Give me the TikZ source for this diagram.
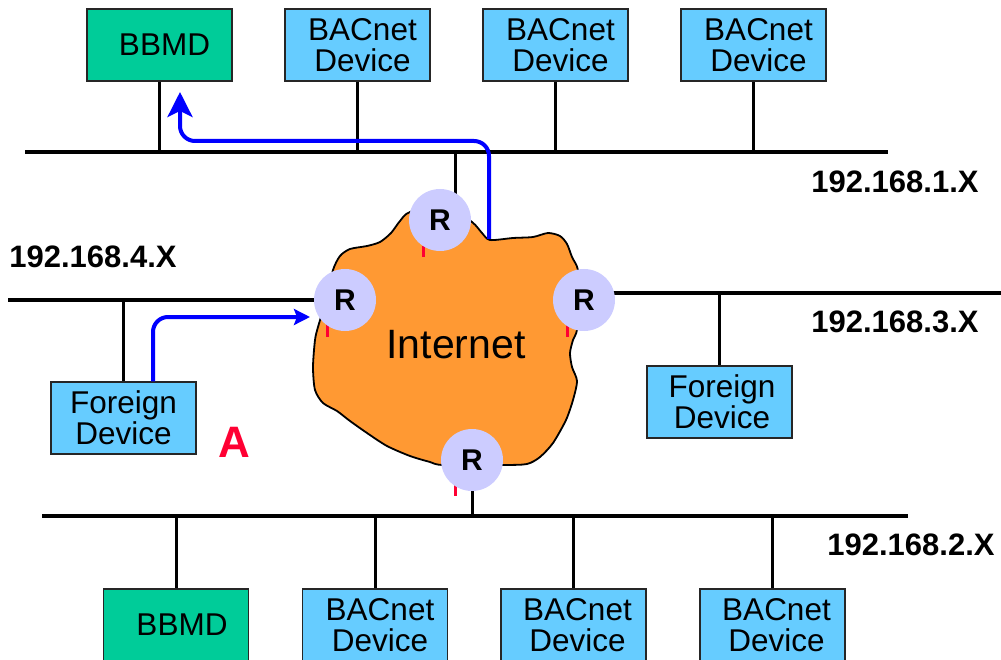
\documentclass[tikz,border=0pt]{standalone}
\usepackage{fontspec}
\setmainfont{Liberation Sans}
\usetikzlibrary{arrows.meta,backgrounds}

\definecolor{bbmdgreen}{HTML}{00CC99}
\definecolor{devblue}{HTML}{66CCFF}
\definecolor{routerfill}{HTML}{CCCCFF}
\definecolor{cloudorange}{HTML}{FF9933}
\definecolor{tickred}{HTML}{FF0033}
\definecolor{flowblue}{HTML}{0000FF}

\begin{document}
\begin{tikzpicture}[x=1pt,y=-1pt,
  devbox/.style={draw=black!85, line width=1.5pt, fill=devblue,
    minimum width=145pt, minimum height=72pt, inner sep=0pt, align=center,
    font=\fontsize{31.5}{31}\selectfont},
  bbmdbox/.style={devbox, fill=bbmdgreen},
  router/.style={circle, fill=routerfill, minimum size=62pt, inner sep=0pt,
    font=\fontsize{30}{30}\selectfont\bfseries},
  bus/.style={line width=4pt},
  drop/.style={line width=3pt},
  flow/.style={draw=flowblue, line width=4pt, rounded corners=15pt},
  tickmark/.style={draw=tickred, line width=3pt},
  netlabel/.style={font=\fontsize{31}{31}\selectfont\bfseries, inner sep=0pt},
]
\clip (0,0) rectangle (1001,660);

% ---- the Internet cloud ----
\draw[fill=cloudorange, line width=1.8pt, line join=round]
  plot[smooth cycle, tension=0.45] coordinates {
    (410,212) (400,221) (391,233) (380,242) (367,246) (350,249) (340,256)
    (333,270) (326,300) (318,327) (315,340) (313,367) (315,390) (323,403)
    (337,411) (350,421) (367,433) (387,446) (410,456) (430,462) (443,465)
    (503,465) (527,464) (540,457) (553,443) (566,420) (573,400) (577,381)
    (572,367) (570,353) (573,340) (577,330) (580,300) (578,270) (572,257)
    (567,244) (560,236) (548,233) (533,237) (513,238) (490,240) (482,233)
    (472,222) (445,205)};
\node[font=\fontsize{41}{41}\selectfont, inner sep=0pt] (inet) at (456,345) {Internet};

% ---- red port marks ----
\draw[tickmark] (423,246) -- (423,257);
\draw[tickmark] (327,323) -- (327,337);
\draw[tickmark] (567,325) -- (567,337);
\draw[tickmark] (455,485) -- (455,496);

% ---- routers ----
\node[router] (r1) at (440,220) {R};
\node[router] (r2) at (345,300) {R};
\node[router] (r3) at (584,300) {R};
\node[router] (r4) at (472,460) {R};

% ---- devices on 192.168.1.X ----
\node[bbmdbox] (bbmdA) at (159.5,45) {\hspace*{10pt}BBMD};
\node[devbox] (devA1) at (357.5,45) {\hspace*{10pt}BACnet\\\hspace*{10pt}Device};
\node[devbox] (devA2) at (555.5,45) {\hspace*{10pt}BACnet\\\hspace*{10pt}Device};
\node[devbox] (devA3) at (753.5,45) {\hspace*{10pt}BACnet\\\hspace*{10pt}Device};

% ---- devices on 192.168.2.X ----
\node[bbmdbox] (bbmdB) at (176,625) {\hspace*{12pt}BBMD};
\node[devbox] (devB1) at (375,625) {\hspace*{10pt}BACnet\\\hspace*{10pt}Device};
\node[devbox] (devB2) at (573.5,625) {\hspace*{8pt}BACnet\\\hspace*{8pt}Device};
\node[devbox] (devB3) at (772.5,625) {\hspace*{8pt}BACnet\\\hspace*{8pt}Device};

% ---- foreign devices ----
\node[devbox] (fd1) at (123.5,418) {Foreign\\Device};
\node[devbox] (fd2) at (719.5,402) {\hspace*{5pt}Foreign\\\hspace*{5pt}Device};

% ---- network labels ----
\node[netlabel] (n1) at (895,182) {192.168.1.X};
\node[netlabel] (n4) at (93,257) {192.168.4.X};
\node[netlabel] (n3) at (895,322) {192.168.3.X};
\node[netlabel] (n2) at (911,545) {192.168.2.X};
\node[font=\fontsize{44}{44}\selectfont\bfseries, text=tickred, inner sep=0pt]
  (markA) at (234,442) {A};

% ---- bus segments and drops (behind everything) ----
\coordinate (b1L) at (25,152);  \coordinate (b1R) at (888,152);
\coordinate (b2L) at (42,516);  \coordinate (b2R) at (908,516);
\coordinate (b3R) at (1001,293);
\coordinate (b4L) at (8,300);
\coordinate (t1) at (455,152);
\begin{scope}[on background layer]
  \draw[bus] (b1L) -- (b1R);
  \foreach \n in {bbmdA,devA1,devA2,devA3}
    \draw[drop] (\n.south) -- (\n.south |- b1L);
  \draw[drop] (t1) -- (t1 |- r1.center);

  \draw[bus] (b2L) -- (b2R);
  \foreach \n in {bbmdB,devB1,devB2,devB3}
    \draw[drop] (\n.north) -- (\n.north |- b2L);
  \draw[drop] (r4.center) -- (r4.center |- b2L);

  \draw[bus] (b3R -| r3.center) -- (b3R);
  \draw[drop] (fd2.north) -- (fd2.north |- b3R);

  \draw[bus] (b4L) -- (b4L -| r2.center);
  \draw[drop] (fd1.north) -- (fd1.north |- b4L);
\end{scope}

% ---- message flows ----
\coordinate (f1s) at (489,239);
\coordinate (f1e) at (180,92);
\draw[flow, -{Stealth[length=25pt,width=25pt,inset=6pt]}]
  (f1s) -- ++(0,-98) -| (f1e);

\coordinate (f2s) at ([xshift=29.5pt]fd1.north);
\coordinate (f2e) at (310,317);
\draw[flow, -{Stealth[length=16pt,width=16pt,inset=3pt]}]
  (f2s) |- (f2e);
\end{tikzpicture}
\end{document}
